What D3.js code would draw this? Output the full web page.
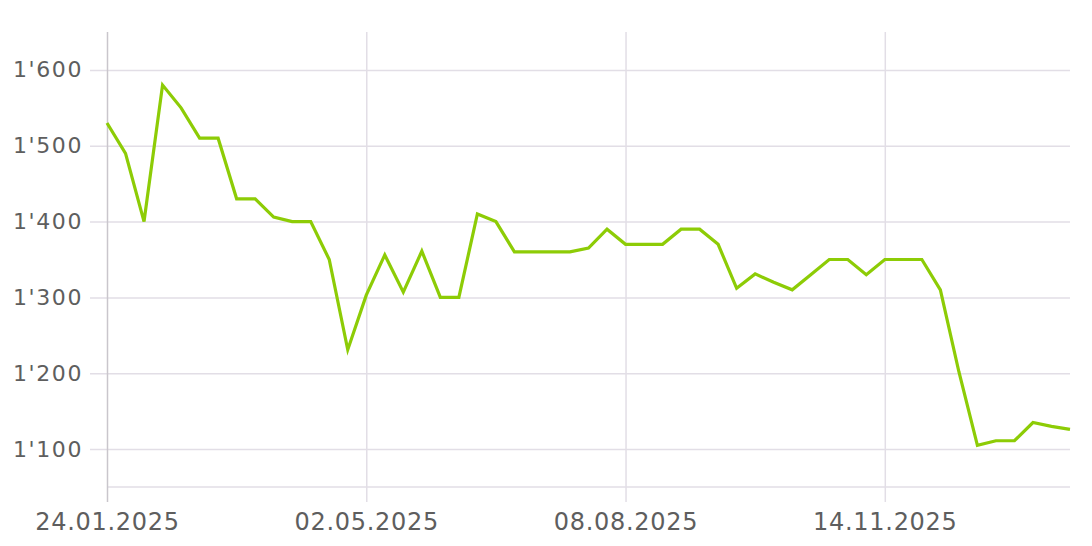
<!DOCTYPE html>
<html lang="en">
<head>
    <meta charset="UTF-8">
    <title>Weekly price</title>
    <style>
        body { margin: 0; background: #fff; }
        .tick text { font-family: "DejaVu Sans", sans-serif; fill: #5e5e5e; }
    </style>
</head>
<body>
    <div id="chart"></div>
    <script src="https://d3js.org/d3.v7.min.js"></script>
    <script>
        // weekly observations, first week starts 24.01.2025
        var startDate = "2025-01-24";
        var values = [
            1530, 1490, 1400, 1580, 1550, 1510, 1510, 1430, 1430, 1406,
            1400, 1400, 1350, 1231, 1303, 1356, 1307, 1361, 1300, 1300,
            1410, 1400, 1360, 1360, 1360, 1360, 1365, 1390, 1370, 1370,
            1370, 1390, 1390, 1370, 1312, 1331, 1320, 1310, 1330, 1350,
            1350, 1330, 1350, 1350, 1350, 1310, 1202, 1105, 1111, 1111,
            1135, 1130, 1126
        ];
        var yTicks = [1100, 1200, 1300, 1400, 1500, 1600];
        var xTickLabels = ["24.01.2025", "02.05.2025", "08.08.2025", "14.11.2025"];

        var W = 1092, H = 546;
        var margin = { top: 32, right: 22, bottom: 59, left: 107 },
            width = W - margin.left - margin.right,
            height = H - margin.top - margin.bottom;

        var parse = d3.timeParse("%Y-%m-%d");
        var parseTick = d3.timeParse("%d.%m.%Y");
        var fmtTick = d3.timeFormat("%d.%m.%Y");
        var t0 = parse(startDate);
        var data = values.map(function (v, i) {
            return { date: d3.timeDay.offset(t0, 7 * i), value: v };
        });

        var svg = d3.select("#chart").append("svg")
            .attr("width", W).attr("height", H)
            .append("g")
            .attr("transform", "translate(" + margin.left + "," + margin.top + ")");

        var x = d3.scaleTime()
            .domain(d3.extent(data, function (d) { return d.date; }))
            .range([0, width]);
        var y = d3.scaleLinear().domain([1050, 1650]).range([height, 0]);

        // horizontal grid + y labels
        var yAxis = svg.append("g")
            .call(d3.axisLeft(y).tickValues(yTicks).tickSize(-width - 17)
                .tickFormat(function (d) { return d3.format(",")(d).replace(",", "'"); }))
            .attr("transform", "translate(-17,0)");
        yAxis.select(".domain").remove();
        yAxis.selectAll("line").attr("stroke", "#e2dee6").attr("stroke-width", 1.5);
        yAxis.selectAll("text").attr("x", -7).attr("font-size", 22).attr("letter-spacing", 1.6);

        // baseline
        svg.append("line").attr("x1", 0).attr("x2", width)
            .attr("y1", height).attr("y2", height)
            .attr("stroke", "#e2dee6").attr("stroke-width", 1.5);

        // vertical grid + x labels
        var xAxis = svg.append("g")
            .attr("transform", "translate(0," + (height + 15) + ")")
            .call(d3.axisBottom(x).tickValues(xTickLabels.map(parseTick))
                .tickSize(-height - 15).tickFormat(fmtTick));
        xAxis.select(".domain").remove();
        xAxis.selectAll("line")
            .attr("stroke", function (d, i) { return i === 0 ? "#c9c6cc" : "#e2dee6"; })
            .attr("stroke-width", 1.5);
        xAxis.selectAll("text").attr("y", 11).attr("font-size", 24).attr("letter-spacing", 0.7);

        var line = d3.line()
            .x(function (d) { return x(d.date); })
            .y(function (d) { return y(d.value); });

        svg.append("path")
            .datum(data)
            .attr("fill", "none")
            .attr("stroke", "#8dcc06")
            .attr("stroke-width", 3.2)
            .attr("stroke-linejoin", "miter")
            .attr("d", line);
    </script>
</body>
</html>
